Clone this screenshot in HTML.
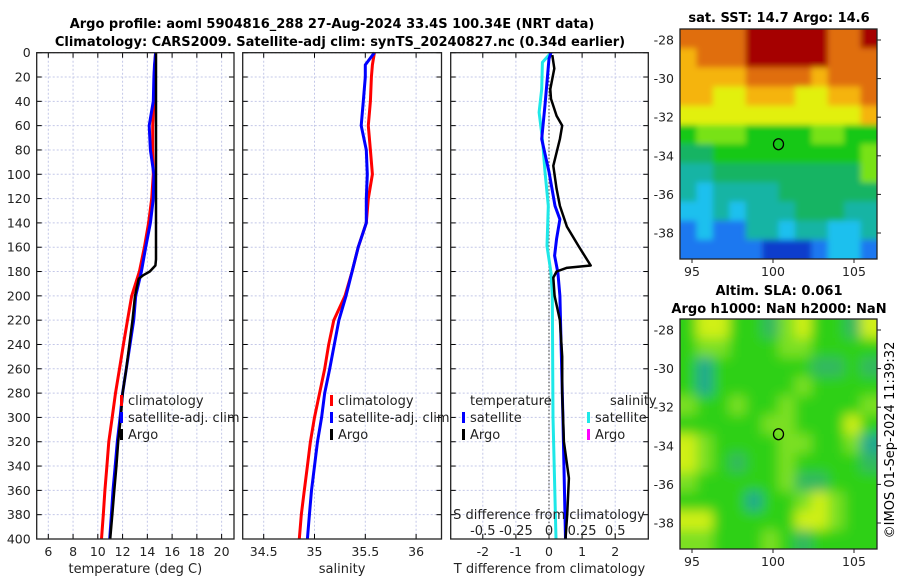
<!DOCTYPE html>
<html><head><meta charset="utf-8">
<style>
html,body{margin:0;padding:0;background:#fff;}
svg{display:block;font-family:"DejaVu Sans","Liberation Sans",sans-serif;}
</style></head>
<body>
<svg id="fig" width="900" height="580" viewBox="0 0 900 580" xmlns="http://www.w3.org/2000/svg">
<defs>
<filter id="blurS" x="-5%" y="-5%" width="110%" height="110%"><feGaussianBlur stdDeviation="3"/></filter>
<filter id="blurL" x="-5%" y="-5%" width="110%" height="110%"><feGaussianBlur stdDeviation="6"/></filter>
<clipPath id="clip1"><rect x="680" y="29" width="197" height="230"/></clipPath>
<clipPath id="clip2"><rect x="680" y="319" width="197" height="230"/></clipPath>
</defs>
<text x="332" y="28" font-size="13" font-weight="bold" text-anchor="middle">Argo profile: aoml 5904816_288 27-Aug-2024 33.4S 100.34E (NRT data)</text>
<text x="340" y="46" font-size="13" font-weight="bold" text-anchor="middle">Climatology: CARS2009. Satellite-adj clim: synTS_20240827.nc (0.34d earlier)</text>
<text x="779" y="22" font-size="13" font-weight="bold" text-anchor="middle">sat. SST: 14.7 Argo: 14.6</text>
<text x="779" y="295" font-size="13" font-weight="bold" text-anchor="middle">Altim. SLA: 0.061</text>
<text x="779" y="313" font-size="13" font-weight="bold" text-anchor="middle">Argo h1000: NaN h2000: NaN</text>
<text x="0" y="0" font-size="13" text-anchor="middle" transform="translate(894,440) rotate(-90)">©IMOS 01-Sep-2024 11:39:32</text>
<g id="g"></g>
</svg>
<script>
// ---- data ----
const depths = [0,10,20,40,60,80,100,120,140,160,180,200,220,240,260,280,300,320,340,360,380,400];
const depthTicks = [0,20,40,60,80,100,120,140,160,180,200,220,240,260,280,300,320,340,360,380,400];
const tempClim = [14.67,14.6,14.55,14.53,14.43,14.43,14.48,14.35,14.1,13.76,13.36,12.74,12.4,12.07,11.75,11.43,11.16,10.89,10.73,10.57,10.44,10.3];
const tempSat  = [14.67,14.58,14.53,14.48,14.15,14.25,14.53,14.48,14.25,13.87,13.52,13.06,12.9,12.6,12.3,12.0,11.8,11.57,11.4,11.23,11.1,10.96];
const argoDepth = [0,20,60,100,140,170,175,180,183,186,200,220,240,260,280,300,320,340,360,380,400];
const argoTemp  = [14.7,14.7,14.7,14.7,14.7,14.7,14.65,14.2,13.67,13.3,13.0,12.8,12.55,12.3,12.0,11.86,11.65,11.5,11.33,11.17,11.0];
const salClim = [35.59,35.57,35.56,35.55,35.53,35.55,35.57,35.53,35.51,35.43,35.37,35.3,35.19,35.14,35.1,35.05,35.0,34.96,34.93,34.9,34.87,34.85];
const salSat  = [35.59,35.5,35.5,35.48,35.46,35.51,35.52,35.51,35.51,35.43,35.37,35.31,35.24,35.195,35.15,35.1,35.07,35.03,35.0,34.97,34.95,34.93];
const tempTicks = [6,8,10,12,14,16,18,20];
const salTicks = [34.5,35,35.5,36];
const tdiffTicks = [-2,-1,0,1,2];
const sdiffTicks = [-0.5,-0.25,0,0.25,0.5];
const sdiffLabels = ["-0.5","-0.25","0","0.25","0.5"];
const argoDiffDepth = [2,13,30,38,52,60,71,93,112,126,143,159,175,177,180,185,200,220,250,280,320,350,380,400];
const argoTDiff     = [0.1,0.16,0.04,0.06,0.23,0.4,0.33,0.13,0.23,0.33,0.54,0.89,1.26,0.53,0.23,0.13,0.17,0.33,0.4,0.4,0.45,0.6,0.55,0.5];
const satDiffDepth = [0,5,43,71,98,126,137,153,167,181,200,300,400];
const satTDiff     = [0.06,0.0,-0.12,-0.22,0.0,0.18,0.33,0.23,0.17,0.27,0.33,0.42,0.5];
const salDiffDepth = [0,8,30,49,71,98,126,159,181,200,300,400];
const satSDiff     = [0.015,-0.05,-0.055,-0.075,-0.05,-0.03,-0.005,-0.015,0.015,0.025,0.03,0.053];
const mapLonTicks = [95,100,105];
const mapLatTicks = [-28,-30,-32,-34,-36,-38];
const argoLon = 100.34, argoLat = -33.4;
const sstGrid = [
[9,9,9,9,10,10,10,10,10,9,9,10],
[8,9,9,9,10,10,10,10,10,9,9,9],
[8,8,8,8,9,9,9,9,8,9,9,9],
[8,8,7,7,8,8,8,7,7,8,8,9],
[7,7,7,7,7,7,7,7,7,7,7,8],
[5,6,6,6,5,5,5,5,6,6,5,5],
[4,4,5,5,5,5,5,5,5,5,5,6],
[3,3,4,4,4,4,4,4,4,4,4,6],
[3,2,3,3,3,3,4,4,4,4,4,4],
[2,2,3,2,3,3,3,4,4,4,3,3],
[1,2,1,1,3,3,2,3,3,2,2,3],
[1,1,1,1,1,0,0,0,1,2,2,1]];
const slaGrid = [
[5,7,7,5,5,4,6,7,5,5,4,7],
[5,6,6,5,5,5,6,6,5,5,5,5],
[5,3,5,5,5,5,5,5,4,4,5,4],
[5,3,5,5,5,5,5,6,5,5,5,5],
[6,5,5,6,5,5,6,5,5,5,5,6],
[5,5,5,5,5,6,6,5,5,5,7,5],
[7,6,5,5,5,5,6,6,5,5,6,3],
[7,6,5,4,5,5,6,5,5,5,5,4],
[6,5,5,5,5,5,6,4,4,5,5,5],
[5,5,5,5,3,5,5,6,7,6,5,5],
[7,7,5,5,5,5,5,7,7,6,5,5],
[6,6,5,5,5,6,5,4,5,5,5,5]];
const cmap = ["#0a3ccc","#1e78f0","#1ec0ee","#12b4a4","#14b464","#14c814","#78e214","#e2f00a","#f5b40a","#e06e0a","#a50000"];
const slaCmap = ["#0a3ccc","#1e78f0","#1ec0ee","#20a890","#30b860","#2ed018","#7ce020","#d0f014"];

// ---- drawing ----
const NS="http://www.w3.org/2000/svg";
const G=document.getElementById('g');
function mk(tag,attrs,parent){const e=document.createElementNS(NS,tag);for(const k in attrs)e.setAttribute(k,attrs[k]);(parent||G).appendChild(e);return e;}
const TOP=52.7,BOT=539;
const yD=d=>TOP+(d/400)*(BOT-TOP);
function poly(xs,ds,xf,color,w,name,dash){
  const pts=xs.map((v,i)=>xf(v).toFixed(1)+","+yD(ds[i]).toFixed(1)).join(" ");
  const p=mk('polyline',{points:pts,fill:"none",stroke:color,"stroke-width":w,"stroke-linejoin":"round"});
  
  
  if(dash)p.setAttribute('stroke-dasharray',dash);
  return p;
}
function panel(x0,x1,name,xTicks,xf,labels,xlabel,showY){
  const g=mk('g',{});
  
  
  xTicks.forEach(t=>{const x=xf(t);mk('line',{x1:x,x2:x,y1:TOP,y2:BOT,stroke:"#c4c8e8","stroke-width":1,"stroke-dasharray":"2,2"},g);
    mk('line',{x1:x,x2:x,y1:TOP,y2:TOP+5,stroke:"#000"},g);mk('line',{x1:x,x2:x,y1:BOT,y2:BOT-5,stroke:"#000"},g);});
  depthTicks.forEach(d=>{const y=yD(d);mk('line',{x1:x0,x2:x1,y1:y,y2:y,stroke:"#c4c8e8","stroke-width":1,"stroke-dasharray":"2,2"},g);
    mk('line',{x1:x0,x2:x0+5,y1:y,y2:y,stroke:"#000"},g);mk('line',{x1:x1,x2:x1-5,y1:y,y2:y,stroke:"#000"},g);
    if(showY){const t=mk('text',{x:x0-6,y:y+4.5,"font-size":12.5,"text-anchor":"end",fill:"#222"},g);t.textContent=d;
      }});
  if(labels){xTicks.forEach((t,i)=>{const tx=mk('text',{x:xf(t),y:BOT+17,"font-size":12.5,"text-anchor":"middle",fill:"#222"},g);tx.textContent=labels[i];
    });}
  const xl=mk('text',{x:(x0+x1)/2,y:BOT+34,"font-size":13,"text-anchor":"middle",fill:"#222"},g);xl.textContent=xlabel;
  
  return g;
}
function frame(x0,x1,name){const r=mk('rect',{x:x0,y:TOP,width:x1-x0,height:BOT-TOP,fill:"none",stroke:"#222","stroke-width":1.3});
  }
function legend(x,y,items){items.forEach((it,i)=>{const yy=y+i*17;
  mk('rect',{x:x,y:yy-10,width:3,height:11,fill:it[1]});
  const t=mk('text',{x:x+8,y:yy,"font-size":13,fill:"#222"});t.textContent=it[0];
  });}

const xT=t=>48.3+(t-6)*12.38;
panel(36.7,234,'temperature-panel',tempTicks,xT,tempTicks.map(String),'temperature (deg C)',true);
poly(tempClim,depths,xT,"#f00",3,'temp-climatology-line');
poly(tempSat,depths,xT,"#00f",3,'temp-satellite-line');
poly(argoTemp,argoDepth,xT,"#000",2.5,'temp-argo-line');
legend(120,405,[["climatology","#f00"],["satellite-adj. clim","#00f"],["Argo","#000"]]);
frame(36.7,234,'temperature-frame');

const xS=s=>314.5+(s-35)*101.6;
panel(242.7,441.5,'salinity-panel',salTicks,xS,salTicks.map(String),'salinity',false);
poly(salClim,depths,xS,"#f00",3,'sal-climatology-line');
poly(salSat,depths,xS,"#00f",3,'sal-satellite-line');
legend(330,405,[["climatology","#f00"],["satellite-adj. clim","#00f"],["Argo","#000"]]);
frame(242.7,441.5,'salinity-frame');

const xDT=v=>549+v*33.1;
const xDS=v=>549+v*4*33.1;
panel(450.7,648.3,'difference-panel',tdiffTicks,xDT,tdiffTicks.map(String),'T difference from climatology',false);
mk('line',{x1:xDT(0),x2:xDT(0),y1:TOP,y2:BOT,stroke:"#555","stroke-dasharray":"1.5,2","stroke-width":1.2});
poly(satSDiff,salDiffDepth,xDS,"#1ee8e8",3,'sdiff-satellite-line');
poly(satTDiff,satDiffDepth,xDT,"#00f",3,'tdiff-satellite-line');
poly(argoTDiff,argoDiffDepth,xDT,"#000",2.5,'tdiff-argo-line');
(function(){const t=mk('text',{x:470,y:405,"font-size":13,fill:"#222"});t.textContent="temperature";
  
  const s=mk('text',{x:610,y:405,"font-size":13,fill:"#222"});s.textContent="salinity";
  })();
legend(462,422,[["satellite","#00f"],["Argo","#000"]]);
legend(587,422,[["satellite","#1ee8e8"],["Argo","#f0f"]]);
(function(){const t=mk('text',{x:549,y:519,"font-size":13,"text-anchor":"middle",fill:"#222"});t.textContent="S difference from climatology";
  })();
sdiffTicks.forEach((v,i)=>{const t=mk('text',{x:xDS(v),y:535,"font-size":13,"text-anchor":"middle",fill:"#222"});t.textContent=sdiffLabels[i];
  });
frame(450.7,648.3,'difference-frame');

function map(y0,grid,colors,name,clip,filt){
  const X0=680,X1=877,Y0=y0,Y1=y0+230;
  const lonF=l=>X0+(l-94.26)*16.2, latF=l=>Y0+(-27.43-l)*19.3;
  const g=mk('g',{});
  const cg=mk('g',{"clip-path":"url(#"+clip+")"},g);
  const bg=mk('g',{filter:"url(#"+filt+")"},cg);
  const nr=grid.length,nc=grid[0].length,cw=(X1-X0)/nc,ch=(Y1-Y0)/nr;
  grid.forEach((row,r)=>row.forEach((v,c)=>{
    const rx=X0+c*cw-(c===0?12:0), ry=Y0+r*ch-(r===0?12:0);
    const w=cw+0.6+(c===0?12:0)+(c===nc-1?12:0), h=ch+0.6+(r===0?12:0)+(r===nr-1?12:0);
    const cell=mk('rect',{x:rx.toFixed(2),y:ry.toFixed(2),width:w.toFixed(2),height:h.toFixed(2),fill:colors[v]},bg);
    }));
  mk('rect',{x:X0,y:Y0,width:X1-X0,height:Y1-Y0,fill:"none",stroke:"#222","stroke-width":1.3},g);
  mapLonTicks.forEach(l=>{const x=lonF(l);mk('line',{x1:x,x2:x,y1:Y1,y2:Y1+4,stroke:"#222"},g);
    const t=mk('text',{x:x,y:Y1+17,"font-size":12.5,"text-anchor":"middle",fill:"#222"},g);t.textContent=l;
    });
  mapLatTicks.forEach(l=>{const y=latF(l);mk('line',{x1:X1,x2:X1+4,y1:y,y2:y,stroke:"#222"},g);
    const t=mk('text',{x:X0-6,y:y+4.5,"font-size":12.5,"text-anchor":"end",fill:"#222"},g);t.textContent=l;
    });
  const c=mk('ellipse',{cx:lonF(argoLon),cy:latF(argoLat),rx:5,ry:5.5,fill:"none",stroke:"#000","stroke-width":1.3},g);
  
}
map(29,sstGrid,cmap,'sst-map','clip1','blurS');
map(319,slaGrid,slaCmap,'sla-map','clip2','blurL');
</script>
</body></html>
